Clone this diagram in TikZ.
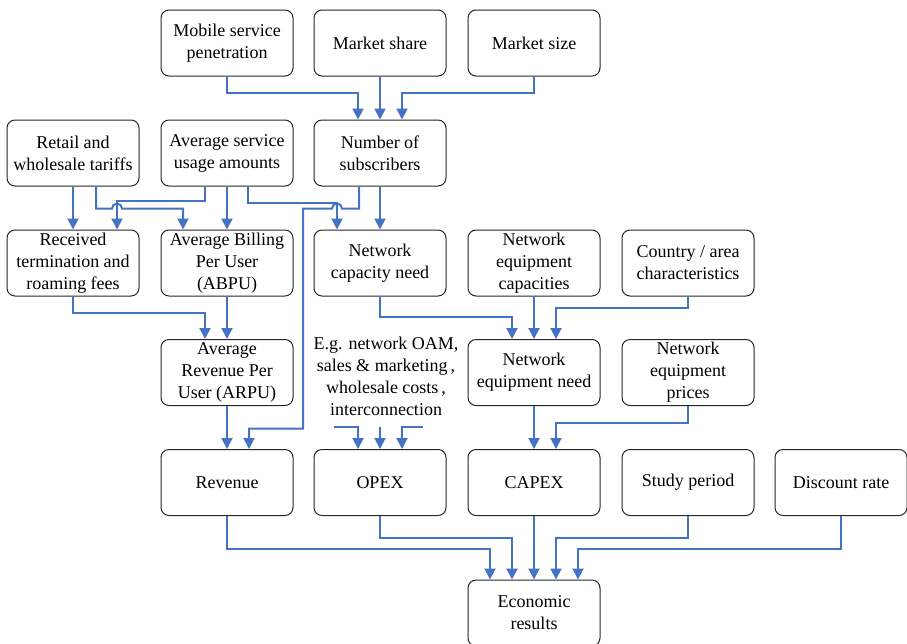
\documentclass[tikz,border=0pt]{standalone}
\usepackage{fontspec}
\setmainfont{Liberation Serif}
\usetikzlibrary{arrows.meta,calc}
\definecolor{lnblue}{HTML}{4472C4}
\tikzset{
  box/.style={draw=black!85, line width=1pt, rounded corners=8pt, minimum width=132pt, minimum height=66pt, align=center, inner sep=2pt, font=\fontsize{18}{22}\selectfont},
  arr/.style={draw=lnblue, line width=2pt, -{Triangle[width=11pt,length=11pt]}},
  note/.style={align=center, font=\fontsize{18}{22}\selectfont, inner sep=0pt}
}
\begin{document}
\begin{tikzpicture}[x=1pt,y=-1pt]
\useasboundingbox (0,0) rectangle (907,643);
% row 1
\node[box] (mob) at (227,43) {Mobile service\\penetration};
\node[box] (msh) at (380,43) {Market share};
\node[box] (msz) at (534,43) {Market size};
% row 2
\node[box] (ret) at (73,153) {Retail and\\wholesale tariffs};
\node[box] (use) at (227,153) {Average service\\usage amounts};
\node[box] (sub) at (380,153) {Number of\\subscribers};
% row 3
\node[box] (rec) at (73,263) {Received\\termination and\\roaming fees};
\node[box] (abpu) at (227,263) {Average Billing\\Per User\\(ABPU)};
\node[box] (cap) at (380,263) {Network\\capacity need};
\node[box] (neqc) at (534,263) {Network\\equipment\\capacities};
\node[box] (ctry) at (688,263) {Country / area\\characteristics};
% row 4
\node[box] (arpu) at (227,372.5) {Average\\Revenue Per\\User (ARPU)};
\node[note] (opnote) at (386,376) {E.g. network OAM,\\sales \& marketing\,,\\wholesale costs\,,\\interconnection};
\node[box] (neqn) at (534,372.5) {Network\\equipment need};
\node[box] (price) at (688,372.5) {Network\\equipment\\prices};
% row 5
\node[box] (rev) at (227,482.5) {Revenue};
\node[box] (opex) at (380,482.5) {OPEX};
\node[box] (capex) at (534,482.5) {CAPEX};
\node[box] (study) at (688,482.5) {Study period};
\node[box] (disc) at (841,482.5) {Discount rate};
% row 6
\node[box] (econ) at (534,613) {Economic\\results};
% free ends
\coordinate (o1) at (334,427);
\coordinate (o2) at (380,427);
\coordinate (o3) at (423,427);
% row 1 -> 2
\draw[arr] (mob.south) -- ++(0,16) -| ([xshift=-22pt]sub.north);
\draw[arr] (msh.south) -- (sub.north);
\draw[arr] (msz.south) -- ++(0,16) -| ([xshift=22pt]sub.north);
% row 2 -> 3
\draw[arr] (ret.south) -- (rec.north);
\draw[arr] ([xshift=23pt]ret.south) -- ++(0,22) -- ++(16,0) arc[start angle=180,end angle=360,radius=5] -| ([xshift=-44pt]abpu.north);
\draw[arr] ([xshift=-22pt]use.south) -- ++(0,14) -| ([xshift=44pt]rec.north);
\draw[arr] (use.south) -- (abpu.north);
\draw[arr] ([xshift=21pt]use.south) -- ++(0,16) -| ([xshift=-43pt]cap.north);
\draw[arr] ([xshift=-21pt]sub.south) -- ++(0,22) -- ++(-17,0) arc[start angle=360,end angle=180,radius=5] -- ++(-29,0) -- ++(0,220) -| ([xshift=22pt]rev.north);
\draw[arr] (sub.south) -- (cap.north);
% row 3 -> 4
\draw[arr] (rec.south) -- ++(0,16) -| ([xshift=-22pt]arpu.north);
\draw[arr] (abpu.south) -- (arpu.north);
\draw[arr] (cap.south) -- ++(0,20) -| ([xshift=-22pt]neqn.north);
\draw[arr] (neqc.south) -- (neqn.north);
\draw[arr] (ctry.south) -- ++(0,11) -| ([xshift=22pt]neqn.north);
% row 4 -> 5
\draw[arr] (arpu.south) -- (rev.north);
\draw[arr] (o1) -| ([xshift=-22pt]opex.north);
\draw[arr] (o2) -- (opex.north);
\draw[arr] (o3) -| ([xshift=22pt]opex.north);
\draw[arr] (neqn.south) -- (capex.north);
\draw[arr] (price.south) -- ++(0,17) -| ([xshift=22pt]capex.north);
% row 5 -> 6
\draw[arr] (rev.south) -- ++(0,33) -| ([xshift=-44pt]econ.north);
\draw[arr] (opex.south) -- ++(0,22) -| ([xshift=-22pt]econ.north);
\draw[arr] (capex.south) -- (econ.north);
\draw[arr] (study.south) -- ++(0,22) -| ([xshift=22pt]econ.north);
\draw[arr] (disc.south) -- ++(0,33) -| ([xshift=44pt]econ.north);
\end{tikzpicture}
\end{document}
